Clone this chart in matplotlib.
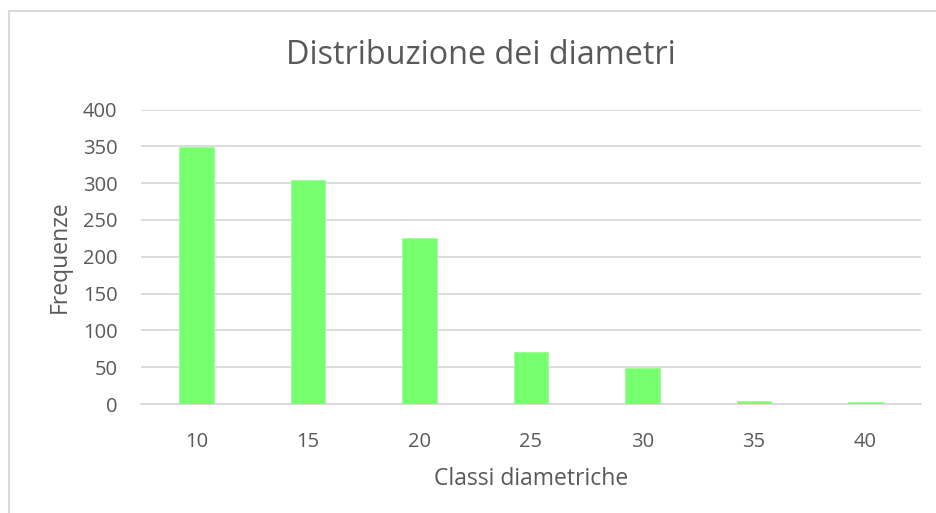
import numpy as np
import matplotlib.pyplot as plt
from matplotlib.patches import Rectangle

classes = ['10', '15', '20', '25', '30', '35', '40']
freq = [349, 304, 226, 71, 49, 4, 3]
y_ticks = [0, 50, 100, 150, 200, 250, 300, 350, 400]

plt.rcParams['font.family'] = ['Open Sans', 'DejaVu Sans']
txt = '#595959'
grid = '#d9d9d9'

fig = plt.figure(figsize=(9.36, 5.13), dpi=100)
W, H = 936, 513
ax = fig.add_axes([141 / W, 1 - 404 / H, (921 - 141) / W, (404 - 109.5) / H])

x = np.arange(len(classes))
ax.bar(x, freq, width=0.31, color='#76ff6e', edgecolor='#9cff96', linewidth=0.6, zorder=3)

ax.set_xlim(-0.5, len(classes) - 0.5)
ax.set_ylim(0, 400)
ax.set_yticks(y_ticks)
ax.set_xticks(x)
ax.set_xticklabels(classes)
ax.yaxis.grid(True, color=grid, linewidth=1.3, zorder=0)
for s in ['top', 'right', 'left']:
    ax.spines[s].set_visible(False)
ax.spines['bottom'].set_color(grid)
ax.spines['bottom'].set_linewidth(1.3)
ax.tick_params(axis='both', length=0, labelsize=14.5, colors=txt)
ax.tick_params(axis='y', pad=17)
ax.tick_params(axis='x', pad=20)

ax.set_xlabel('Classi diametriche', fontsize=16.5, color=txt, labelpad=11)
ax.set_ylabel('Frequenze', fontsize=16.5, color=txt, labelpad=8)

fig.text(481 / W, 1 - 56 / H, 'Distribuzione dei diametri', fontsize=23.3, color=txt,
         ha='center', va='center')

# chart border
fig.patches.append(Rectangle((8.5 / W, -0.05), 1.1, 1 - 10.5 / H + 0.05,
                             transform=fig.transFigure, fill=False,
                             edgecolor=grid, linewidth=1.5))

fig.savefig('out.png', dpi=100)
